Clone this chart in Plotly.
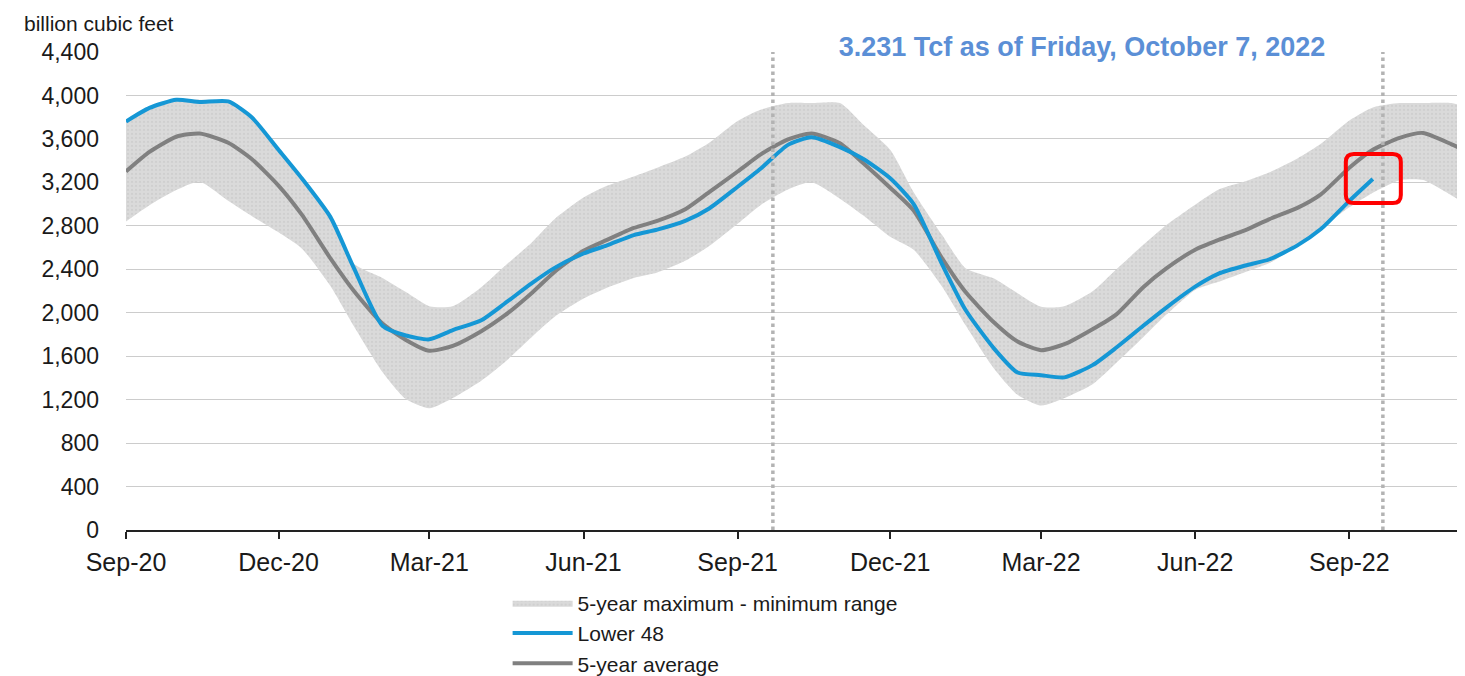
import plotly.graph_objects as go

# semi-monthly sample dates
DATES = [
    "2020-09-01", "2020-09-15", "2020-10-01", "2020-10-15", "2020-11-01", "2020-11-15", "2020-12-01", "2020-12-15",
    "2021-01-01", "2021-01-15", "2021-02-01", "2021-02-15", "2021-03-01", "2021-03-15", "2021-04-01", "2021-04-15",
    "2021-05-01", "2021-05-15", "2021-06-01", "2021-06-15", "2021-07-01", "2021-07-15", "2021-08-01", "2021-08-15",
    "2021-09-01", "2021-09-15", "2021-10-01", "2021-10-15", "2021-11-01", "2021-11-15", "2021-12-01", "2021-12-15",
    "2022-01-01", "2022-01-15", "2022-02-01", "2022-02-15", "2022-03-01", "2022-03-15", "2022-04-01", "2022-04-15",
    "2022-05-01", "2022-05-15", "2022-06-01", "2022-06-15", "2022-07-01", "2022-07-15", "2022-08-01", "2022-08-15",
    "2022-09-01", "2022-09-15", "2022-10-01", "2022-10-15", "2022-11-01", "2022-11-09",
]

# Lower 48 working gas in storage (bcf), ends 2022-09-15
LOWER48 = [
    3760, 3885, 3960, 3940, 3945, 3800, 3500, 3235,
    2880, 2410, 1880, 1790, 1755, 1840, 1930, 2085, 2270, 2415, 2545, 2620, 2715, 2765, 2848, 2960,
    3160, 3330, 3545, 3615, 3525, 3415, 3237, 3000,
    2445, 2025, 1670, 1450, 1425, 1405, 1520, 1680, 1880, 2050, 2240, 2360, 2435, 2490, 2620, 2770,
    3030, 3231,
]

# 5-year average
AVG5 = [
    3300, 3480, 3620, 3650, 3565, 3415, 3170, 2900,
    2500, 2200, 1900, 1750, 1650, 1695, 1830, 1975, 2180, 2380, 2570, 2670, 2780, 2845, 2955, 3110,
    3300, 3460, 3595, 3650, 3560, 3375, 3150, 2940,
    2500, 2190, 1910, 1735, 1655, 1710, 1850, 1985, 2235, 2410, 2580, 2670, 2760, 2860, 2965, 3090,
    3335, 3500, 3610, 3655, 3550, 3495,
]

# 5-year maximum
MAX5 = [
    3775, 3900, 3970, 3960, 3950, 3800, 3510, 3240,
    2880, 2450, 2320, 2190, 2060, 2060, 2235, 2430, 2645, 2865, 3060, 3168, 3255, 3335, 3440, 3565,
    3765, 3870, 3930, 3930, 3930, 3730, 3500, 3110,
    2715, 2410, 2315, 2180, 2055, 2060, 2200, 2400, 2625, 2810, 2995, 3135, 3210, 3290, 3420, 3555,
    3770, 3890, 3930, 3930, 3930, 3900,
]

# 5-year minimum
MIN5 = [
    2840, 2990, 3130, 3206, 3030, 2890, 2740, 2590,
    2245, 1875, 1455, 1205, 1120, 1215, 1375, 1545, 1775, 1965, 2130, 2230, 2320, 2370, 2480, 2615,
    2820, 2995, 3135, 3200, 3050, 2895, 2700, 2580,
    2240, 1885, 1485, 1245, 1145, 1215, 1345, 1540, 1775, 1985, 2210, 2285, 2375, 2455, 2615, 2775,
    2970, 3105, 3220, 3222, 3080, 3000,
]

Y_TICKS = list(range(0, 4401, 400))
X_RANGE = ["2020-09-01", "2022-11-09"]
MARK_DATES = ["2021-09-22", "2022-09-21"]
LAST_DATE = "2022-09-15"
LAST_VALUE = 3231

FONT = "Liberation Sans, Arial, sans-serif"
BLUE = "#1597d5"
GRAY = "#808080"
SMOOTH = 0.6

fig = go.Figure()

fig.add_trace(go.Scatter(
    x=DATES, y=MAX5, mode="lines", line=dict(width=0, color="#d9d9d9", shape="spline", smoothing=SMOOTH),
    showlegend=False, hoverinfo="skip",
))
fig.add_trace(go.Scatter(
    x=DATES, y=MIN5, mode="lines", line=dict(width=0, color="#d9d9d9", shape="spline", smoothing=SMOOTH),
    fill="tonexty", fillcolor="#d9d9d9",
    fillpattern=dict(shape=".", bgcolor="#dadada", fgcolor="#c4c4c4", size=4, solidity=0.25),
    name="5-year maximum - minimum range", legendrank=1,
))
fig.add_trace(go.Scatter(
    x=DATES, y=AVG5, mode="lines", line=dict(width=4, color=GRAY, shape="spline", smoothing=SMOOTH),
    name="5-year average", legendrank=3,
))
fig.add_trace(go.Scatter(
    x=DATES[:len(LOWER48)], y=LOWER48, mode="lines",
    line=dict(width=4, color=BLUE, shape="spline", smoothing=SMOOTH),
    name="Lower 48", legendrank=2,
))

shapes = []
for d in MARK_DATES:
    shapes.append(dict(type="line", xref="x", yref="paper", x0=d, x1=d, y0=0, y1=1,
                       line=dict(color="#b3b3b3", width=3.5, dash="dot"), layer="above"))
# red rounded highlight box around the latest value
shapes.append(dict(
    type="path", xref="x", yref="y", xsizemode="pixel", ysizemode="pixel",
    xanchor=LAST_DATE, yanchor=LAST_VALUE,
    path="M -19,-24 L 20,-24 Q 28,-24 28,-16 L 28,17 Q 28,25 20,25 L -19,25 "
         "Q -27,25 -27,17 L -27,-16 Q -27,-24 -19,-24 Z",
    line=dict(color="#ff0000", width=4), layer="above",
))

fig.update_layout(
    width=1457, height=668,
    margin=dict(l=118, r=0, t=44, b=146, autoexpand=False),
    paper_bgcolor="white", plot_bgcolor="white",
    font=dict(family=FONT, size=21, color="#1a1a1a"),
    shapes=shapes,
    xaxis=dict(
        type="date", range=X_RANGE, tick0="2020-09-01", dtick="M3", tickformat="%b-%y",
        showgrid=False, showline=True, linecolor="#222222", linewidth=2,
        ticks="outside", ticklen=7, tickwidth=2, tickcolor="#222222", automargin=False,
        tickfont=dict(size=25, family=FONT, color="#1a1a1a"), ticklabelstandoff=2,
    ),
    yaxis=dict(
        range=[0, 4400], tickvals=Y_TICKS, tickformat=",", automargin=False,
        showgrid=True, gridcolor="#cccccc", gridwidth=1, zeroline=False, showline=False,
        ticks="", tickfont=dict(size=23, family=FONT, color="#1a1a1a"), ticklabelstandoff=26,
    ),
    legend=dict(
        x=0.285, y=-0.11, xanchor="left", yanchor="top", orientation="v", traceorder="normal",
        font=dict(size=21, family=FONT, color="#1a1a1a"), itemwidth=60,
        tracegroupgap=0, bgcolor="rgba(0,0,0,0)",
    ),
    annotations=[
        dict(text="billion cubic feet", xref="paper", yref="paper", x=-0.078, y=1.088,
             xanchor="left", yanchor="top", showarrow=False,
             font=dict(size=21, family=FONT, color="#1a1a1a")),
        dict(text="<b>3.231 Tcf as of Friday, October 7, 2022</b>", xref="paper", yref="paper",
             x=0.714, y=1.0105, xanchor="center", yanchor="middle", showarrow=False,
             font=dict(size=27, family=FONT, color="#5b8fd6"),
             bgcolor="white", width=556, borderpad=2),
    ],
)

fig.write_html("out.html")
